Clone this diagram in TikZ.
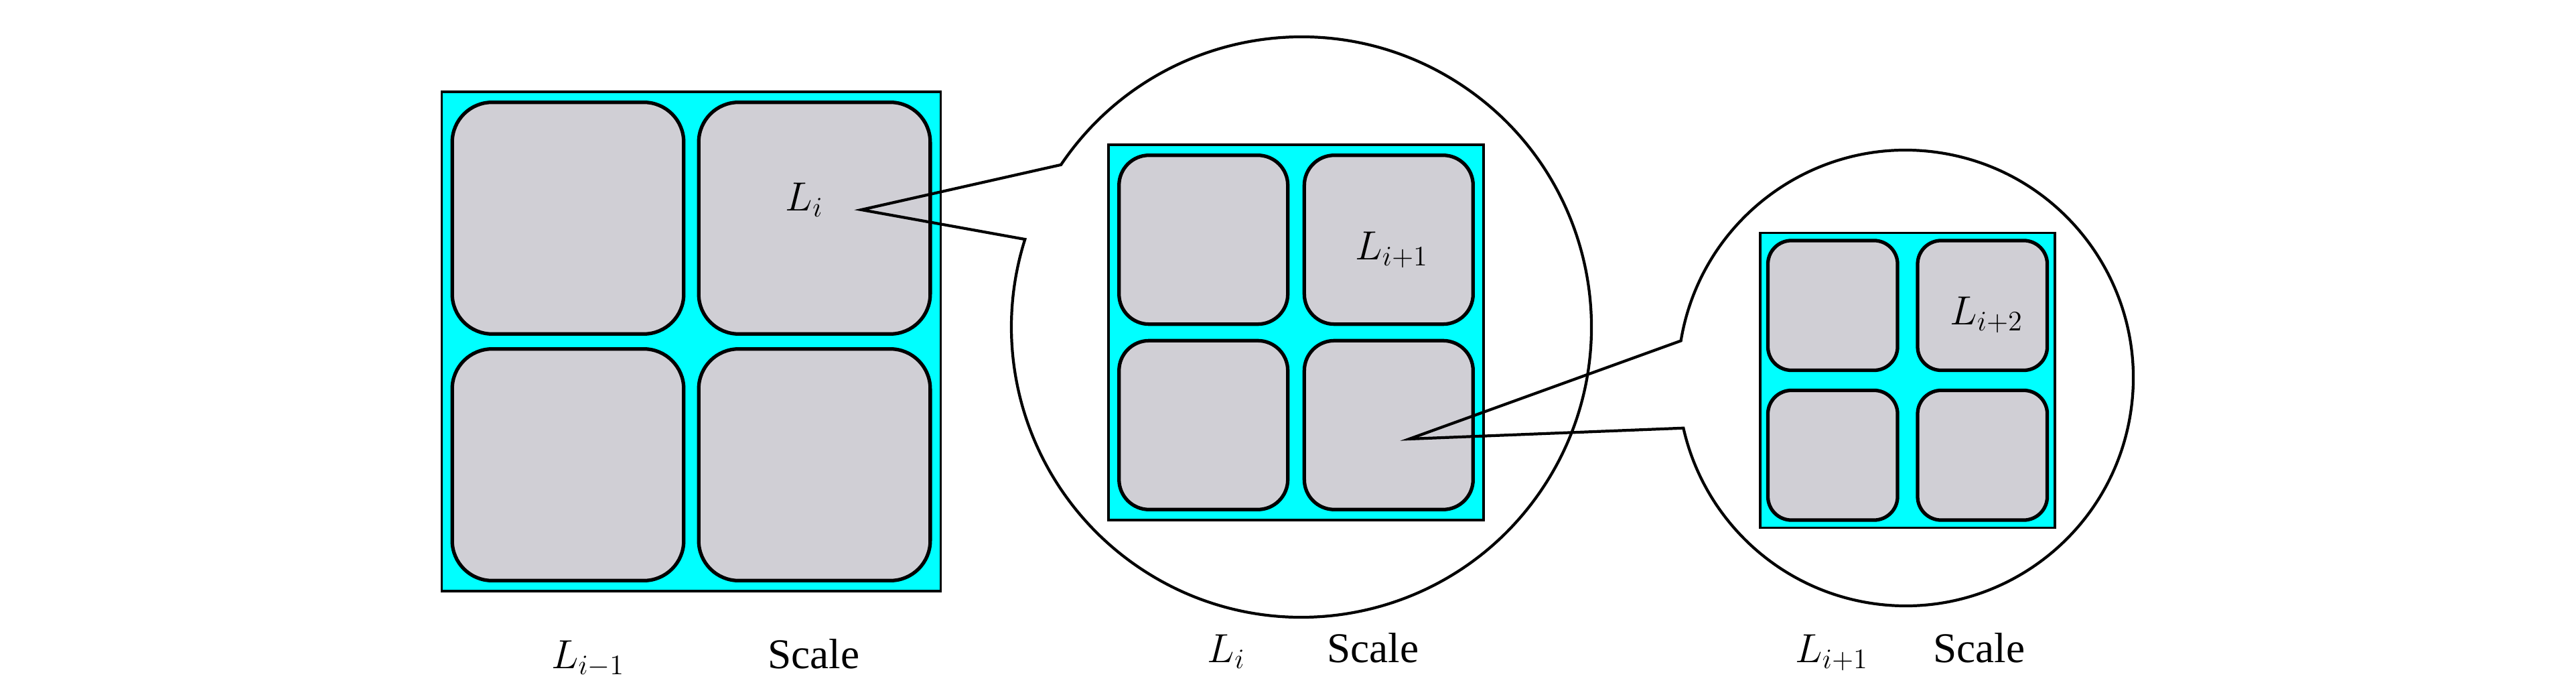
\documentclass[tikz,border=0pt]{standalone}
\usepackage{fontspec}
\setmainfont{Liberation Serif}
\usetikzlibrary{calc,positioning}
\definecolor{aqua}{RGB}{0,255,255}
\definecolor{tilegray}{RGB}{208,207,213}

\begin{document}
\begin{tikzpicture}[
		frame/.style={draw=black,line width=1pt,fill=aqua,inner sep=0pt},
		tile/.style={draw=black,line width=1.5pt,fill=tilegray,inner sep=0pt},
		lab/.style={font=\fontsize{17.28}{20}\selectfont,inner sep=0pt},
		scl/.style={font=\fontsize{18}{21}\selectfont,inner sep=0pt,anchor=base},
		bubble/.style={line width=1.2pt}]
	\useasboundingbox (0,0) rectangle (38.46,10.39);
	\foreach \n/\x/\y/\s/\w/\k in {a/10.32/5.295/7.45/0.464/0.247, b/19.35/5.43/5.60/0.45/0.247, c/28.48/4.715/4.40/0.44/0.254}{
		\pgfmathsetmacro\rc{0.08*\s}
		\pgfmathsetmacro\ts{\w*\s}
		\node[frame,minimum size=\s cm] (\n) at (\x,\y) {};
		\foreach \i/\dx/\dy in {1/-1/1,2/1/1,3/-1/-1,4/1/-1}
			\node[tile,rounded corners=\rc cm,minimum size=\ts cm] (\n-\i) at ($(\n)+(\dx*\k*\s,\dy*\k*\s)$) {};
	}
	\node[lab] (la) at (12.01,7.41) {$L_i$};
	\node[lab] (lb) at (20.78,6.66) {$L_{i+1}$};
	\node[lab] (lc) at (29.66,5.69) {$L_{i+2}$};
	\coordinate (pa) at (12.86,7.26);
	\coordinate (pb) at (21.04,3.84);
	\coordinate (ob) at (19.43,5.51);
	\coordinate (oc) at (28.45,4.75);
	\draw[bubble] (pa) -- ($(ob)+(146:4.33)$) arc[start angle=146,end angle=-197.6,radius=4.33] -- cycle;
	\draw[bubble] (pb) -- ($(oc)+(170.6:3.4)$) arc[start angle=170.6,end angle=-167.3,radius=3.4] -- cycle;
	\node[lab,anchor=base] (ta) at (8.78,0.42) {$L_{i-1}$};
	\node[scl] (sa) at (12.15,0.42) {Scale};
	\node[lab,anchor=base] (tb) at (18.31,0.51) {$L_i$};
	\node[scl] (sb) at (20.50,0.51) {Scale};
	\node[lab,anchor=base] (tc) at (27.35,0.51) {$L_{i+1}$};
	\node[scl] (sc) at (29.55,0.51) {Scale};
\end{tikzpicture}
\end{document}
